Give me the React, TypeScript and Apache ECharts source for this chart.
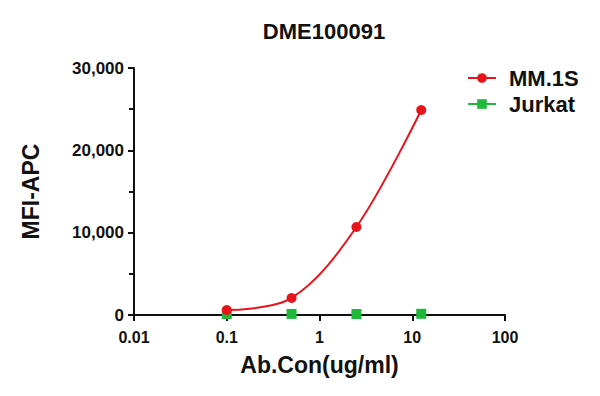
import React, { useEffect, useRef } from "react";
import * as echarts from "echarts";

const concentrations = [0.1, 0.5, 2.5, 12.5];
const mm1sValues = [610, 2070, 10690, 24900];
const jurkatValues = [120, 130, 120, 150];
const xTickLabels = ["0.01", "0.1", "1", "10", "100"];
const titleText = "DME100091";
const seriesNames = ["MM.1S", "Jurkat"];

const RED = "#e8141b";
const GREEN = "#1fb83a";
const FONT = "Liberation Sans, Arial, sans-serif";

export default function App() {
  const ref = useRef<HTMLDivElement>(null);
  useEffect(() => {
    if (!ref.current) return;
    const chart = echarts.init(ref.current, null, { renderer: "svg" });
    const fmtX = (v: number) => {
      const idx = Math.round(Math.log10(v)) + 2;
      return xTickLabels[idx] ?? String(v);
    };
    chart.setOption({
      animation: false,
      backgroundColor: "#ffffff",
      title: {
        text: titleText,
        left: 319,
        textAlign: "center",
        top: 15,
        textStyle: { fontFamily: FONT, fontSize: 22, fontWeight: "bold", color: "#111" },
      },
      legend: {
        orient: "vertical",
        left: 462,
        top: 62,
        itemGap: 4,
        itemWidth: 28,
        itemHeight: 12,
        textStyle: {
          fontFamily: FONT,
          fontSize: 22,
          fontWeight: "bold",
          color: "#111",
          padding: [0, 0, 0, 8],
        },
        data: [
          { name: seriesNames[0] },
          { name: seriesNames[1], lineStyle: { opacity: 1, width: 2, color: GREEN } },
        ],
      },
      grid: { left: 134, right: 95, top: 68, bottom: 81, containLabel: false },
      xAxis: {
        type: "log",
        logBase: 10,
        min: 0.01,
        max: 100,
        name: "Ab.Con(ug/ml)",
        nameLocation: "middle",
        nameGap: 38,
        nameTextStyle: { fontFamily: FONT, fontSize: 23, fontWeight: "bold", color: "#111" },
        axisLine: { lineStyle: { color: "#111", width: 2 } },
        axisTick: { length: 6, lineStyle: { color: "#111", width: 2 } },
        minorTick: { show: false },
        splitLine: { show: false },
        axisLabel: {
          formatter: fmtX,
          fontFamily: FONT,
          fontSize: 16,
          fontWeight: "bold",
          color: "#111",
          margin: 14,
        },
      },
      yAxis: {
        type: "value",
        min: 0,
        max: 30000,
        interval: 10000,
        name: "MFI-APC",
        nameLocation: "middle",
        nameGap: 92,
        nameTextStyle: { fontFamily: FONT, fontSize: 23, fontWeight: "bold", color: "#111" },
        axisLine: { show: true, lineStyle: { color: "#111", width: 2 } },
        axisTick: { show: true, length: 6, lineStyle: { color: "#111", width: 2 } },
        minorTick: { show: true, splitNumber: 2, length: 5, lineStyle: { color: "#111", width: 2 } },
        splitLine: { show: false },
        axisLabel: {
          formatter: (v: number) => v.toLocaleString("en-US"),
          fontFamily: FONT,
          fontSize: 17,
          fontWeight: "bold",
          color: "#111",
          margin: 10,
        },
      },
      series: [
        {
          name: seriesNames[1],
          type: "line",
          data: concentrations.map((c, i) => [c, jurkatValues[i]]),
          symbol: "rect",
          symbolSize: 10,
          itemStyle: { color: GREEN },
          lineStyle: { color: GREEN, width: 2, opacity: 0 },
          z: 2,
        },
        {
          name: seriesNames[0],
          type: "line",
          data: concentrations.map((c, i) => [c, mm1sValues[i]]),
          smooth: 0.35,
          symbol: "circle",
          symbolSize: 10,
          itemStyle: { color: RED },
          lineStyle: { color: RED, width: 2 },
          z: 3,
        },
      ],
    });
    return () => chart.dispose();
  }, []);
  return <div ref={ref} style={{ width: 600, height: 396, position: "absolute", left: 0, top: 0 }} />;
}
